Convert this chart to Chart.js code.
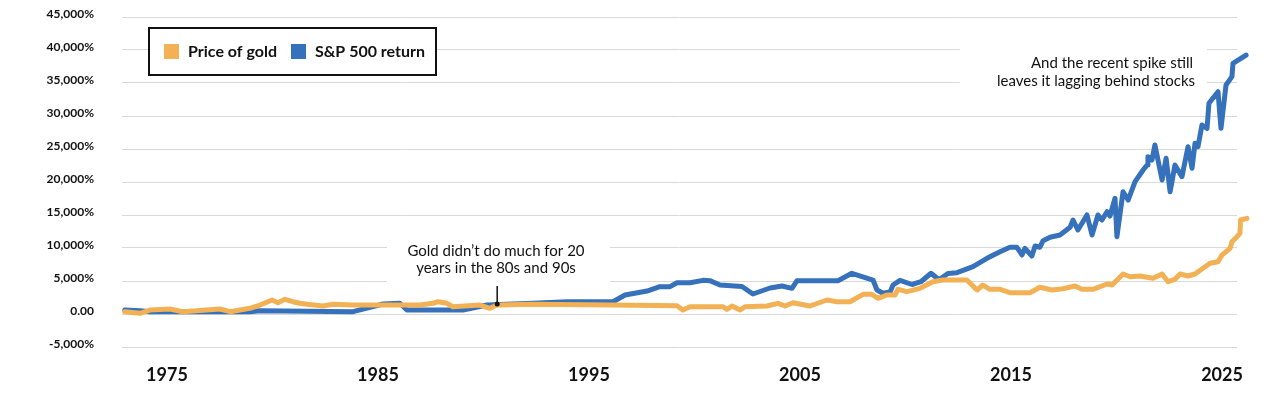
<!DOCTYPE html>
<html lang="en">
<head>
<meta charset="utf-8" />
<title>Gold vs S&amp;P 500</title>
<style>
  html, body { margin: 0; padding: 0; background: #fff; }
  #wrap { position: relative; width: 1280px; height: 399px; }
</style>
</head>
<body>
<div id="wrap"><canvas id="myChart"></canvas></div>
<script src="https://cdn.jsdelivr.net/npm/chart.js@4.4.1/dist/chart.umd.min.js"></script>
<script>
  // cumulative return, %
  var goldYears = [1973.0, 1973.72, 1974.19, 1975.14, 1975.76, 1977.51, 1977.99, 1978.93, 1979.41, 1979.98,
    1980.26, 1980.59, 1980.97, 1981.3, 1981.64, 1982.39, 1982.87, 1983.82, 1985.24, 1986.99,
    1987.61, 1987.84, 1988.27, 1988.55, 1989.83, 1990.31, 1990.64, 1992.35, 1996.14, 1999.17,
    1999.45, 1999.79, 2001.35, 2001.54, 2001.78, 2002.16, 2002.39, 2003.44, 2003.96, 2004.29,
    2004.67, 2005.47, 2006.28, 2006.75, 2007.37, 2007.99, 2008.41, 2008.7, 2009.12, 2009.5,
    2009.64, 2010.07, 2010.69, 2011.3, 2011.78, 2012.91, 2013.39, 2013.67, 2014.0, 2014.48,
    2014.95, 2015.9, 2016.37, 2016.94, 2017.46, 2018.03, 2018.36, 2018.89, 2019.55, 2019.79,
    2020.31, 2020.64, 2021.11, 2021.73, 2022.16, 2022.44, 2022.77, 2023.01, 2023.39, 2023.72,
    2024.43, 2024.81, 2025.0, 2025.38, 2025.47, 2025.71, 2025.85, 2025.88, 2026.18];
  var goldValues = [350, 100, 600, 760, 350, 760, 350, 860, 1360, 2120,
    1710, 2230, 1860, 1620, 1470, 1210, 1470, 1360, 1360, 1360,
    1620, 1860, 1620, 1100, 1360, 860, 1360, 1470, 1360, 1260,
    600, 1100, 1100, 710, 1210, 600, 1100, 1210, 1620, 1210,
    1710, 1210, 2120, 1860, 1860, 2980, 2980, 2380, 2880, 2880,
    3740, 3380, 3890, 4890, 5150, 5150, 3640, 4390, 3740, 3740,
    3230, 3230, 4050, 3640, 3830, 4240, 3740, 3740, 4550, 4390,
    6060, 5650, 5760, 5410, 6060, 4890, 5260, 6060, 5760, 6060,
    7680, 7920, 8940, 9950, 10950, 11710, 12230, 14240, 14500];

  var spYears = [1973.0, 1973.72, 1974.19, 1978.93, 1979.41, 1983.82, 1985.24, 1986.04, 1986.37, 1989.03,
    1990.17, 1992.35, 1993.96, 1996.14, 1996.71, 1997.75, 1998.36, 1998.84, 1999.17, 1999.79,
    2000.4, 2000.73, 2001.21, 2002.25, 2002.77, 2003.58, 2004.15, 2004.62, 2004.86, 2006.8,
    2007.46, 2008.46, 2008.65, 2008.93, 2009.27, 2009.41, 2009.74, 2010.31, 2010.73, 2011.21,
    2011.59, 2012.01, 2012.44, 2013.2, 2013.86, 2014.48, 2014.95, 2015.28, 2015.52, 2015.66,
    2015.99, 2016.14, 2016.37, 2016.52, 2016.85, 2017.32, 2017.8, 2017.94, 2018.17, 2018.6,
    2018.84, 2019.12, 2019.31, 2019.55, 2019.69, 2019.93, 2020.02, 2020.31, 2020.55, 2020.88,
    2021.26, 2021.45, 2021.49, 2021.68, 2021.82, 2022.16, 2022.35, 2022.54, 2022.77, 2023.1,
    2023.39, 2023.58, 2023.72, 2023.86, 2024.05, 2024.29, 2024.38, 2024.81, 2024.95, 2025.19,
    2025.47, 2025.52, 2026.14];
  var spValues = [600, 500, 350, 350, 500, 350, 1520, 1620, 600, 600,
    1360, 1620, 1860, 1860, 2880, 3480, 4140, 4140, 4740, 4740,
    5100, 5050, 4390, 4170, 3030, 3940, 4240, 3890, 5050, 5050,
    6170, 5150, 3640, 3140, 3330, 4390, 5100, 4470, 4890, 6170,
    5200, 6140, 6260, 7170, 8440, 9440, 10110, 10110, 8940, 9950,
    8790, 10300, 10110, 11110, 11620, 11970, 13140, 14240, 12730, 15000,
    11970, 15000, 14240, 15500, 14850, 17530, 11710, 18530, 17270, 20050,
    21820, 22580, 23830, 23330, 25610, 20300, 23590, 18530, 22580, 20800,
    25350, 22080, 25860, 25350, 28640, 28130, 31920, 33680, 28130, 34700,
    35960, 37980, 39240];

  var xTicks = [1975, 1985, 1995, 2005, 2015, 2025];
  var yTicks = [-5000, 0, 5000, 10000, 15000, 20000, 25000, 30000, 35000, 40000, 45000];
  var xMin = 1972.87, xMax = 2025.71; // grid ends before the last data points

  var GOLD = '#f2b155';
  var BLUE = '#3671bb';

  function toPoints(xs, ys) {
    var pts = [];
    for (var i = 0; i < xs.length; i++) pts.push({ x: xs[i], y: ys[i] });
    return pts;
  }

  // white boxes + notes + boxed legend
  var notes = {
    id: 'notes',
    beforeDatasetsDraw: function (chart) {
      var ctx = chart.ctx;
      ctx.save();
      ctx.fillStyle = '#fff';
      ctx.fillRect(387, 236, 223, 50);
      ctx.fillRect(960, 44, 247, 48);

      ctx.fillStyle = '#111';
      ctx.font = '15px Lato';
      ctx.textBaseline = 'middle';
      ctx.textAlign = 'center';
      ctx.fillText('Gold didn\u2019t do much for 20', 496, 251);
      ctx.fillText('years in the 80s and 90s', 496, 268);
      ctx.textAlign = 'right';
      ctx.fillText('And the recent spike still', 1193, 63);
      ctx.fillText('leaves it lagging behind stocks', 1195, 81);

      // legend
      ctx.fillStyle = '#fff';
      ctx.fillRect(149, 28, 287, 47);
      ctx.strokeStyle = '#111';
      ctx.lineWidth = 2;
      ctx.strokeRect(149, 28, 287, 47);
      var ds = chart.data.datasets;
      var lx = [164, 291];
      ctx.font = 'bold 16px Lato';
      ctx.textAlign = 'left';
      for (var i = 0; i < ds.length; i++) {
        ctx.fillStyle = ds[i].borderColor;
        ctx.fillRect(lx[i], 44, 15, 15);
        ctx.fillStyle = '#111';
        ctx.fillText(ds[i].label, lx[i] + 24, 52);
      }
      ctx.restore();
    },
    afterDatasetsDraw: function (chart) {
      var ctx = chart.ctx;
      var x = chart.scales.x.getPixelForValue(1990.65);
      ctx.save();
      ctx.strokeStyle = '#111';
      ctx.fillStyle = '#111';
      ctx.lineWidth = 1.5;
      ctx.beginPath();
      ctx.moveTo(x, 286);
      ctx.lineTo(x, 303);
      ctx.stroke();
      ctx.beginPath();
      ctx.arc(x, 304, 2.5, 0, Math.PI * 2);
      ctx.fill();
      ctx.restore();
    }
  };

  var ctx = document.getElementById('myChart').getContext('2d');
  var myChart = new Chart(ctx, {
    type: 'line',
    data: {
      datasets: [
        { label: 'Price of gold', data: toPoints(goldYears, goldValues), borderColor: GOLD },
        { label: 'S&P 500 return', data: toPoints(spYears, spValues), borderColor: BLUE }
      ]
    },
    options: {
      responsive: true,
      maintainAspectRatio: false,
      animation: false,
      layout: { padding: { top: 17, right: 43, bottom: 0, left: 0 } },
      elements: {
        line: { borderWidth: 5, tension: 0, borderJoinStyle: 'round', borderCapStyle: 'round', fill: false },
        point: { radius: 0, hoverRadius: 0 }
      },
      datasets: { line: { clip: false } },
      plugins: { legend: { display: false }, tooltip: { enabled: false } },
      scales: {
        x: {
          type: 'linear',
          bounds: 'data',
          // set in hooks (not min/max) so the last points past the grid still get drawn
          afterDataLimits: function (scale) {
            scale.min = xMin;
            scale.max = xMax;
          },
          afterBuildTicks: function (scale) {
            scale.ticks = xTicks.map(function (v) { return { value: v }; });
            scale.min = xMin;
            scale.max = xMax;
          },
          afterFit: function (scale) { scale.height = 52; },
          grid: { display: false, drawTicks: false },
          border: { display: false },
          ticks: {
            padding: 17,
            maxRotation: 0,
            autoSkip: false,
            color: '#111',
            font: { family: 'Lato', size: 18, weight: 'bold' },
            callback: function (v) { return String(v); }
          }
        },
        y: {
          min: -5000,
          max: 45000,
          afterBuildTicks: function (scale) {
            scale.ticks = yTicks.map(function (v) { return { value: v }; });
          },
          afterFit: function (scale) {
            scale.width = 122;
            scale.paddingTop = 0;
            scale.paddingBottom = 0;
          },
          grid: { color: '#d9d9d9', lineWidth: 1, drawTicks: true, tickLength: 28, tickColor: 'rgba(0,0,0,0)' },
          border: { display: false },
          ticks: {
            padding: 0,
            labelOffset: -3,
            color: '#111',
            font: { family: 'Lato', size: 12, weight: 'bold' },
            callback: function (v) {
              if (v === 0) return '0.00';
              return v.toLocaleString('en-US') + '%';
            }
          }
        }
      }
    },
    plugins: [notes]
  });
</script>
</body>
</html>
